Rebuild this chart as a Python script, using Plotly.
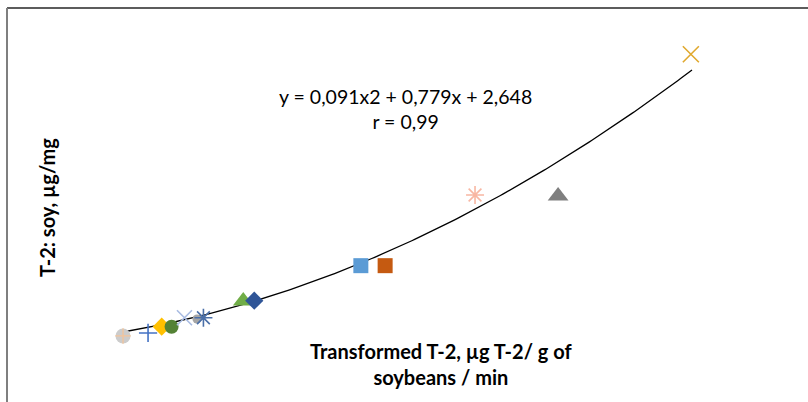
import numpy as np
import plotly.graph_objects as go

# Data (in data units)
names = ["s1", "s2", "s3", "s4", "s5", "s6", "s7", "s8", "s9", "s10", "s11", "s12", "s13", "s14"]
x_vals = [0.00, 0.66, 1.02, 1.28, 1.62, 1.95, 2.12, 3.17, 3.46, 6.27, 6.91, 9.28, 11.47, 14.97]
y_vals = [2.16, 2.53, 3.30, 3.30, 4.40, 4.24, 4.40, 6.45, 6.49, 10.79, 10.79, 19.47, 19.34, 36.74]
symbols = ["circle", "cross-thin", "diamond", "circle", "x-thin", "circle", "asterisk-open",
           "triangle-up", "diamond", "square", "square", "asterisk-open", "triangle-up", "x-thin"]
colors = ["#cccccc", "#4472c4", "#ffc000", "#548235", "#a9bce2", "#a5a5a5", "#4a6fa8",
          "#70ad47", "#2f5597", "#5b9bd5", "#c55a11", "#f8b7a3", "#7f7f7f", "#e0a82e"]
sizes = [15, 13, 14, 14, 15, 9, 15, 18, 14, 15, 15, 15, 18, 16]

# Quadratic fit coefficients
coef_a, coef_b, coef_c = 0.091, 0.779, 2.648
fit_x_min, fit_x_max = 0.0, 15.0
eq_text = "y = 0,091x2 + 0,779x + 2,648<br>r = 0,99"
x_title = "Transformed T-2, µg T-2/ g of<br>soybeans / min"
y_title = "T-2: soy, µg/mg"

fig = go.Figure()

xf = np.linspace(fit_x_min, fit_x_max, 200)
yf = coef_a * xf ** 2 + coef_b * xf + coef_c
fig.add_trace(go.Scatter(x=xf, y=yf, mode="lines", line=dict(color="black", width=1.3),
                         hoverinfo="skip", showlegend=False))

thin = {"cross-thin", "x-thin", "asterisk-open"}
for i in range(len(x_vals)):
    s = symbols[i]
    if s in thin:
        marker = dict(symbol=s, size=sizes[i], color=colors[i],
                      line=dict(color=colors[i], width=1.6))
    else:
        marker = dict(symbol=s, size=sizes[i], color=colors[i], line=dict(width=0))
    fig.add_trace(go.Scatter(x=[x_vals[i]], y=[y_vals[i]], mode="markers", name=names[i],
                             marker=marker, showlegend=False))
    if i == 0:
        # faint orange plus drawn over the grey circle
        fig.add_trace(go.Scatter(x=[x_vals[0]], y=[y_vals[0]], mode="markers",
                                 marker=dict(symbol="cross-thin", size=11, color="#f3c49a",
                                             line=dict(color="#f3c49a", width=1.3)),
                                 showlegend=False))

fnt = "Lato, Carlito, sans-serif"
fig.update_layout(
    width=808, height=402,
    margin=dict(l=0, r=0, t=0, b=0),
    paper_bgcolor="white", plot_bgcolor="white",
    xaxis=dict(range=[-3.243, 18.058], visible=False, fixedrange=True),
    yaxis=dict(range=[-5.945, 43.401], visible=False, fixedrange=True),
    font=dict(family=fnt, color="black"),
    shapes=[
        dict(type="line", xref="paper", yref="paper", x0=7 / 808, x1=1.0,
             y0=1 - 8 / 402, y1=1 - 8 / 402, line=dict(color="#262626", width=1.5)),
        dict(type="line", xref="paper", yref="paper", x0=7 / 808, x1=7 / 808,
             y0=0, y1=1 - 8 / 402, line=dict(color="#7f7f7f", width=2)),
    ],
    annotations=[
        dict(text=eq_text, xref="paper", yref="paper", x=405 / 808, y=1 - 109 / 402,
             xanchor="center", yanchor="middle",
             showarrow=False, font=dict(size=19.5, family=fnt, color="black"),
             align="center"),
        dict(text="<b>" + x_title.replace("<br>", "</b><br><b>") + "</b>", xref="paper", yref="paper",
             x=441 / 808, y=1 - 364 / 402, xanchor="center", yanchor="middle", showarrow=False,
             font=dict(size=20, family=fnt, color="black"), align="center"),
        dict(text="<b>" + y_title + "</b>", xref="paper", yref="paper",
             x=47 / 808, y=1 - 208 / 402, xanchor="center", yanchor="middle",
             showarrow=False, textangle=-90,
             font=dict(size=20, family=fnt, color="black")),
    ],
)

fig.write_html("out.html", config={"displayModeBar": False},
               post_script="document.body.style.margin='0';document.body.style.overflow='hidden';")
